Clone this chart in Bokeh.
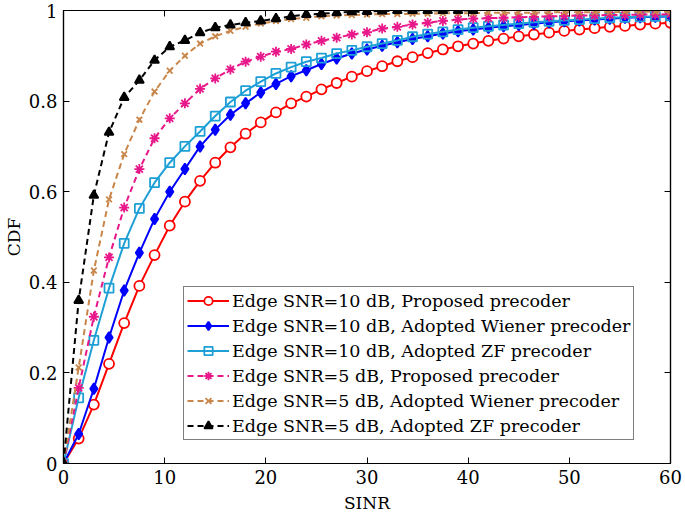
from bokeh.plotting import figure
from bokeh.models import LinearAxis, FixedTicker, Legend
from bokeh.embed import file_html
from bokeh.resources import INLINE

sinr = [0, 1.5, 3, 4.5, 6, 7.5, 9, 10.5, 12, 13.5, 15, 16.5, 18, 19.5, 21, 22.5,
        24, 25.5, 27, 28.5, 30, 31.5, 33, 34.5, 36, 37.5, 39, 40.5, 42, 43.5, 45,
        46.5, 48, 49.5, 51, 52.5, 54, 55.5, 57, 58.5, 60]

snr10_proposed = [0, 0.055, 0.13, 0.22, 0.31, 0.392, 0.46, 0.525, 0.578, 0.624, 0.664,
                  0.698, 0.728, 0.753, 0.775, 0.795, 0.81, 0.826, 0.84, 0.854, 0.866,
                  0.877, 0.888, 0.897, 0.906, 0.914, 0.921, 0.927, 0.933, 0.938, 0.943,
                  0.947, 0.951, 0.955, 0.958, 0.961, 0.964, 0.966, 0.969, 0.971, 0.973]
snr10_wiener = [0, 0.065, 0.165, 0.278, 0.382, 0.465, 0.54, 0.60, 0.65, 0.70, 0.737,
                0.77, 0.795, 0.819, 0.838, 0.855, 0.868, 0.882, 0.894, 0.905, 0.914,
                0.922, 0.93, 0.937, 0.943, 0.949, 0.954, 0.958, 0.962, 0.965, 0.968,
                0.971, 0.974, 0.976, 0.978, 0.98, 0.982, 0.984, 0.985, 0.986, 0.987]
snr10_zf = [0, 0.145, 0.272, 0.387, 0.486, 0.563, 0.62, 0.664, 0.70, 0.733, 0.767,
            0.798, 0.823, 0.843, 0.861, 0.875, 0.887, 0.895, 0.905, 0.912, 0.92,
            0.927, 0.934, 0.942, 0.948, 0.953, 0.958, 0.962, 0.965, 0.968, 0.971,
            0.974, 0.976, 0.978, 0.98, 0.982, 0.984, 0.985, 0.986, 0.987, 0.988]
snr5_proposed = [0, 0.167, 0.324, 0.455, 0.565, 0.65, 0.718, 0.762, 0.795, 0.827, 0.85,
                 0.87, 0.887, 0.898, 0.909, 0.915, 0.925, 0.933, 0.94, 0.947, 0.952,
                 0.96, 0.964, 0.969, 0.973, 0.977, 0.98, 0.982, 0.983, 0.984, 0.985,
                 0.986, 0.987, 0.988, 0.989, 0.989, 0.99, 0.99, 0.991, 0.991, 0.992]
snr5_wiener = [0, 0.212, 0.426, 0.583, 0.683, 0.759, 0.821, 0.867, 0.90, 0.927, 0.943,
               0.955, 0.964, 0.971, 0.977, 0.981, 0.984, 0.987, 0.989, 0.99, 0.991,
               0.992, 0.992, 0.993, 0.993, 0.994, 0.994, 0.994, 0.995, 0.995, 0.995,
               0.995, 0.996, 0.996, 0.996, 0.996, 0.996, 0.997, 0.997, 0.997, 0.997]
snr5_zf = [0, 0.36, 0.592, 0.731, 0.808, 0.846, 0.89, 0.92, 0.934, 0.951, 0.962,
           0.968, 0.973, 0.977, 0.982, 0.987, 0.991, 0.993, 0.995, 0.997, 0.998,
           0.999, 1.0, 1.0, 1.0, 1.0, 1.0, 1.0]

labels = ["Edge SNR=10 dB, Proposed precoder",
          "Edge SNR=10 dB, Adopted Wiener precoder",
          "Edge SNR=10 dB, Adopted ZF precoder",
          "Edge SNR=5 dB, Proposed precoder",
          "Edge SNR=5 dB, Adopted Wiener precoder",
          "Edge SNR=5 dB, Adopted ZF precoder"]
x_ticks = [0, 10, 20, 30, 40, 50, 60]
y_ticks = [0, 0.2, 0.4, 0.6, 0.8, 1]
y_tick_labels = {0: "0", 0.2: "0.2", 0.4: "0.4", 0.6: "0.6", 0.8: "0.8", 1: "1"}

FONT = "DejaVu Serif"

p = figure(width=685, height=515, output_backend="svg", toolbar_location=None,
           x_range=(0, 60), y_range=(0, 1),
           min_border_left=62, min_border_right=15, min_border_top=10, min_border_bottom=49)
p.background_fill_color = "white"
p.border_fill_color = "white"
p.outline_line_color = "black"
p.outline_line_width = 1.2
p.xgrid.visible = False
p.ygrid.visible = False

series = [
    (snr10_proposed, "#FF0000", "solid", "circle", "white", 10),
    (snr10_wiener, "#0000FF", "solid", "diamond", "#0000FF", 11),
    (snr10_zf, "#1EA0D6", "solid", "square", None, 9),
    (snr5_proposed, "#E8178A", "6 4", "asterisk", None, 10),
    (snr5_wiener, "#C8864A", "6 4", "x", None, 8),
    (snr5_zf, "#000000", "6 4", "triangle", "#000000", 9),
]

items = []
for (vals, col, dash, mk, fill, sz), lab in zip(series, labels):
    xs = sinr[:len(vals)]
    r1 = p.line(xs, vals, line_color=col, line_width=2, line_dash=dash)
    r2 = p.scatter(xs, vals, marker=mk, size=sz, line_color=col, line_width=1.8,
                   fill_color=fill)
    items.append((lab, [r1, r2]))

legend = Legend(items=items, location=(120, 23))
legend.label_text_font = FONT
legend.label_text_font_size = "17.5px"
legend.label_text_color = "black"
legend.border_line_color = "black"
legend.border_line_width = 1
legend.padding = 3
legend.margin = 0
legend.spacing = 4
legend.glyph_width = 42
legend.glyph_height = 21
legend.label_height = 21
legend.label_standoff = 3
legend.background_fill_alpha = 1
p.add_layout(legend, "center")

def style(ax, show_labels):
    ax.axis_line_color = "black"
    ax.axis_line_width = 1.2
    ax.major_tick_in = 6
    ax.major_tick_out = 0
    ax.major_tick_line_color = "black"
    ax.minor_tick_line_color = None
    ax.major_label_text_font = FONT
    ax.major_label_text_font_size = "18px"
    ax.major_label_text_color = "black"
    ax.axis_label_text_font = FONT
    ax.axis_label_text_font_size = "17px"
    ax.axis_label_text_font_style = "normal"
    ax.axis_label_text_color = "black"
    if not show_labels:
        ax.major_label_text_color = None
        ax.major_label_standoff = 0

p.xaxis.ticker = FixedTicker(ticks=x_ticks)
p.yaxis.ticker = FixedTicker(ticks=y_ticks)
p.yaxis.major_label_overrides = y_tick_labels
p.xaxis.axis_label = "SINR"
p.yaxis.axis_label = "CDF"
style(p.xaxis[0], True)
style(p.yaxis[0], True)
p.xaxis.major_label_standoff = 6
p.xaxis.axis_label_standoff = 6
p.yaxis.major_label_standoff = 6
p.yaxis.axis_label_standoff = 2

top = LinearAxis(ticker=FixedTicker(ticks=x_ticks))
right = LinearAxis(ticker=FixedTicker(ticks=y_ticks))
style(top, False)
style(right, False)
p.add_layout(top, "above")
p.add_layout(right, "right")

open("out.html", "w").write(file_html(p, INLINE))
